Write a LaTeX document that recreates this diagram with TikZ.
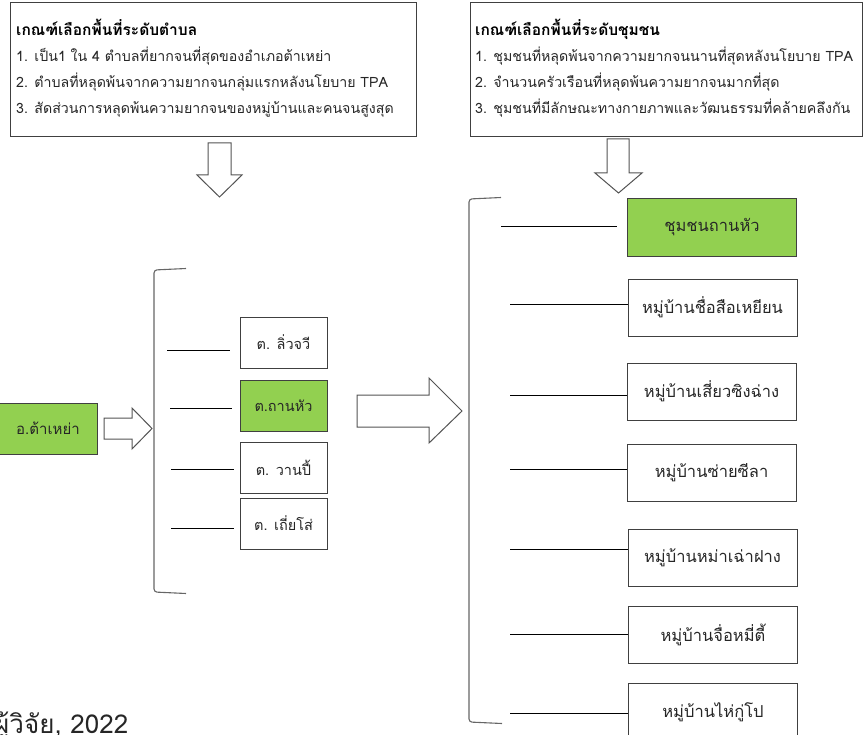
\documentclass[tikz,border=0pt]{standalone}
\usepackage{fontspec}
\setmainfont[Script=Thai]{Loma}
\definecolor{grn}{HTML}{92D050}
\definecolor{edgec}{HTML}{404040}
\definecolor{txt}{HTML}{262626}
\begin{document}
\begin{tikzpicture}[x=1pt,y=-1pt,
  box/.style={draw=edgec, line width=1pt, inner sep=0pt, text=txt, fill=white},
  leftbox/.style={box, minimum width=87pt, minimum height=51pt, font=\fontsize{14.5}{17}\selectfont},
  rightbox/.style={box, minimum width=169pt, minimum height=57pt, font=\fontsize{16.5}{19}\selectfont},
  greenbox/.style={fill=grn},
  critbox/.style={draw=edgec, line width=1pt},
  crittitle/.style={anchor=base west, inner sep=0pt, text=black, font=\fontsize{15.5}{18}\selectfont\bfseries},
  critline/.style={anchor=base west, inner sep=0pt, text=txt, font=\fontsize{14.2}{17}\selectfont},
  conn/.style={draw=black, line width=0.9pt},
  bracket/.style={draw=edgec!80, line width=1.1pt, rounded corners=3pt},
  blockarrow/.style={draw=edgec!90, line width=1pt, fill=white, line join=miter}
]
\useasboundingbox (0,0) rectangle (866,735);
\clip (0,0) rectangle (866,735);

% ---- criteria boxes
\node[critbox, minimum width=406pt, minimum height=134pt] (critA) at (213,70) {};
\node[crittitle] (critAt) at (16,36) {เกณฑ์เลือกพื้นที่ระดับตำบล};
\node[critline] (critA1) at (16,62) {1. เป็น1 ใน 4 ตำบลที่ยากจนที่สุดของอำเภอต้าเหย่า};
\node[critline] (critA2) at (16,88) {2. ตำบลที่หลุดพ้นจากความยากจนกลุ่มแรกหลังนโยบาย TPA};
\node[critline] (critA3) at (16,114) {3. สัดส่วนการหลุดพ้นความยากจนของหมู่บ้านและคนจนสูงสุด};

\node[critbox, minimum width=392pt, minimum height=134pt] (critB) at (666,70) {};
\node[crittitle] (critBt) at (475,36) {เกณฑ์เลือกพื้นที่ระดับชุมชน};
\node[critline] (critB1) at (475,62) {1. ชุมชนที่หลุดพ้นจากความยากจนนานที่สุดหลังนโยบาย TPA};
\node[critline] (critB2) at (475,88) {2. จำนวนครัวเรือนที่หลุดพ้นความยากจนมากที่สุด};
\node[critline] (critB3) at (475,114) {3. ชุมชนที่มีลักษณะทางกายภาพและวัฒนธรรมที่คล้ายคลึงกัน};

% ---- down arrows
\draw[blockarrow] (208,143) -- (231,143) -- (231,175) -- (242,175) -- (219.5,197) -- (197,175) -- (208,175) -- cycle;
\draw[blockarrow] (607,139) -- (629,139) -- (629,173) -- (642,173) -- (618.5,193) -- (595,173) -- (607,173) -- cycle;

% ---- district
\node[box, greenbox, minimum width=98pt, minimum height=51pt, font=\fontsize{15}{18}\selectfont] (amphoe) at (48,428.5) {อ.ต้าเหย่า};

% small right arrow
\draw[blockarrow] (104,418) -- (132,418) -- (132,408) -- (152,428.5) -- (132,449) -- (132,439) -- (104,439) -- cycle;

% left bracket
\draw[bracket] (186,268.5) -- (154,270) -- (154,592) -- (186,593.5);

% sub-districts
\node[leftbox] (t1) at (283.5,342.5) {ต. ลิ่วจวี};
\node[leftbox, greenbox] (t2) at (283.5,406) {ต.ถานหัว};
\node[leftbox] (t3) at (283.5,467.5) {ต. วานปี้};
\node[leftbox] (t4) at (283.5,523.5) {ต. เถี่ยโส่};

\coordinate (la1) at (167,350); \coordinate (lb1) at (230,350);
\coordinate (la2) at (170,408); \coordinate (lb2) at (232,408);
\coordinate (la3) at (171,469); \coordinate (lb3) at (234,469);
\coordinate (la4) at (171,528); \coordinate (lb4) at (234,528);
\draw[conn] (la1) -- (lb1);
\draw[conn] (la2) -- (lb2);
\draw[conn] (la3) -- (lb3);
\draw[conn] (la4) -- (lb4);

% big right arrow
\draw[blockarrow] (357,395) -- (429,395) -- (429,378) -- (462,411) -- (429,443) -- (429,427) -- (357,427) -- cycle;

% right bracket
\draw[bracket] (501,197.5) -- (469,199) -- (469,722) -- (502,723.5);

% communities
\node[rightbox, greenbox] (c1) at (712,227.5) {ชุมชนถานหัว};
\node[rightbox] (c2) at (712.5,307.5) {หมู่บ้านชื่อสือเหยียน};
\node[rightbox] (c3) at (711.5,391.5) {หมู่บ้านเสี่ยวซิงฉ่าง};
\node[rightbox] (c4) at (711.5,472.5) {หมู่บ้านซ่ายซีลา};
\node[rightbox] (c5) at (712.5,557.5) {หมู่บ้านหม่าเฉ่าฝาง};
\node[rightbox] (c6) at (713,635) {หมู่บ้านจื่อหมี่ตี้};
\node[rightbox, minimum height=58pt] (c7) at (713,712) {หมู่บ้านไห่กู่โป};

\coordinate (ra1) at (501,226); \coordinate (rb1) at (617,226);
\coordinate (ra2) at (510,304);
\coordinate (ra3) at (510,395);
\coordinate (ra4) at (510,469);
\coordinate (ra5) at (510,549);
\coordinate (ra6) at (510,634);
\coordinate (ra7) at (510,713);
\draw[conn] (ra1) -- (rb1);
\draw[conn] (ra2) -- (ra2 -| c2.west);
\draw[conn] (ra3) -- (ra3 -| c3.west);
\draw[conn] (ra4) -- (ra4 -| c4.west);
\draw[conn] (ra5) -- (ra5 -| c5.west);
\draw[conn] (ra6) -- (ra6 -| c6.west);
\draw[conn] (ra7) -- (ra7 -| c7.west);

% source
\node[anchor=base west, inner sep=0pt, text=txt, font=\fontsize{26}{30}\selectfont] (src) at (-6,733) {ผู้วิจัย, 2022};
\end{tikzpicture}
\end{document}
